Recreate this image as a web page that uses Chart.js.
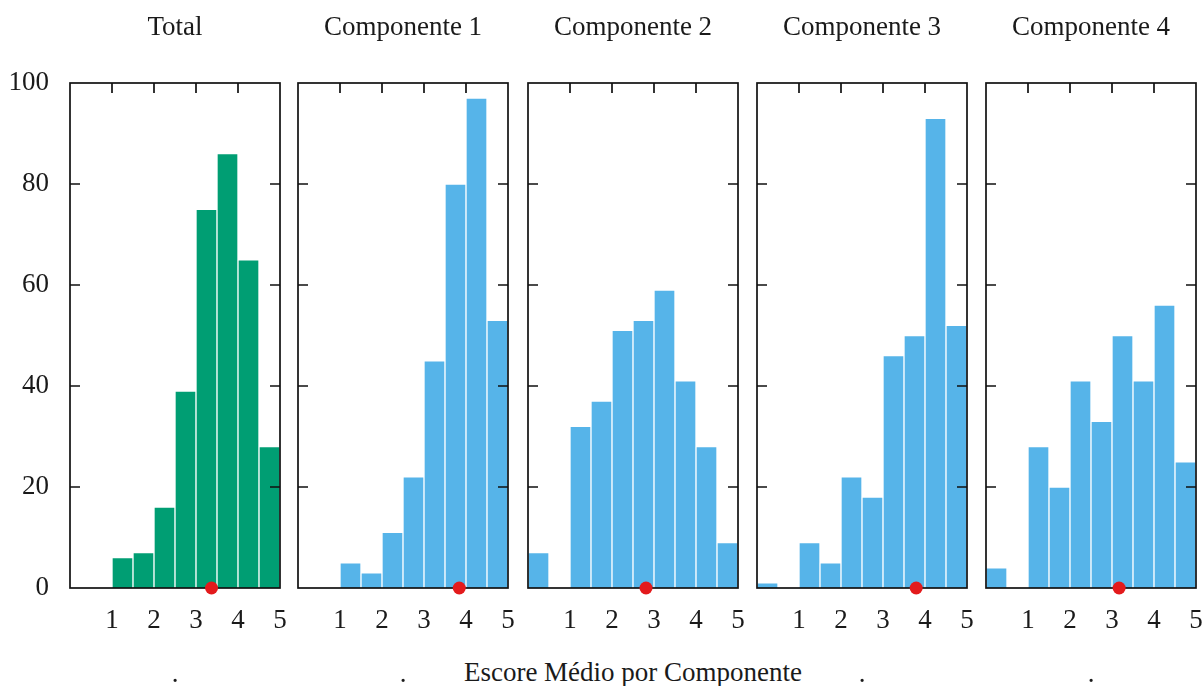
<!DOCTYPE html>
<html>
<head>
<meta charset="utf-8">
<script src="https://cdn.jsdelivr.net/npm/chart.js@4/dist/chart.umd.min.js"></script>
<style>
  html, body { margin: 0; padding: 0; background: #fff; }
  #wrap { position: relative; width: 1203px; height: 686px; overflow: hidden; }
  #wrap canvas { position: absolute; top: 0; }
  #xtitle {
    position: absolute; left: 333px; width: 600px; top: 656px;
    text-align: center; font-family: 'Liberation Serif', 'DejaVu Serif', serif;
    font-size: 27px; line-height: 32px; color: #1a1a1a; white-space: nowrap;
  }
</style>
</head>
<body>
<div id="wrap"><div id="xtitle"></div></div>
<script>
// histogram bins (centers, width 0.5)
const binCenters = [0.25, 0.75, 1.25, 1.75, 2.25, 2.75, 3.25, 3.75, 4.25, 4.75];

const totalCounts = [0, 0, 6, 7, 16, 39, 75, 86, 65, 28];
const comp1Counts = [0, 0, 5, 3, 11, 22, 45, 80, 97, 53];
const comp2Counts = [7, 0, 32, 37, 51, 53, 59, 41, 28, 9];
const comp3Counts = [1, 0, 9, 5, 22, 18, 46, 50, 93, 52];
const comp4Counts = [4, 0, 28, 20, 41, 33, 50, 41, 56, 25];

const panelTitles = ['Total', 'Componente 1', 'Componente 2', 'Componente 3', 'Componente 4'];
const panelMeans = [3.37, 3.84, 2.81, 3.79, 3.17];
const xTicks = [1, 2, 3, 4, 5];
const yTicks = [0, 20, 40, 60, 80, 100];
const xAxisTitle = 'Escore Médio por Componente';

const allCounts = [totalCounts, comp1Counts, comp2Counts, comp3Counts, comp4Counts];
const barColors = ['#009e73', '#56b4e9', '#56b4e9', '#56b4e9', '#56b4e9'];
const plotLefts = [70, 298, 528, 757, 986];
const plotWidth = 210;

const fontFamily = "'Liberation Serif', 'DejaVu Serif', serif";
const textColor = '#1a1a1a';
const baseFont = { family: fontFamily, size: 27, weight: 'normal' };

document.getElementById('xtitle').textContent = xAxisTitle;

// frame box with inward ticks, drawn between bars and the mean dot
const frameTicks = {
  id: 'frameTicks',
  afterDatasetDraw(chart, args) {
    if (args.index !== 0) return;
    const { ctx, chartArea: a, scales } = chart;
    ctx.save();
    ctx.strokeStyle = '#111';
    ctx.lineWidth = 1.7;
    ctx.strokeRect(a.left, a.top, a.right - a.left, a.bottom - a.top);
    ctx.beginPath();
    xTicks.forEach(v => {
      if (v <= 0 || v >= 5) return;
      const px = scales.x.getPixelForValue(v);
      ctx.moveTo(px, a.top);
      ctx.lineTo(px, a.top + 10);
    });
    yTicks.forEach(v => {
      if (v <= 0 || v >= 100) return;
      const py = scales.y.getPixelForValue(v);
      ctx.moveTo(a.left, py);
      ctx.lineTo(a.left + 10, py);
      ctx.moveTo(a.right, py);
      ctx.lineTo(a.right - 10, py);
    });
    ctx.stroke();
    ctx.restore();
  }
};

const wrap = document.getElementById('wrap');

allCounts.forEach((counts, i) => {
  const first = i === 0;
  const last = i === allCounts.length - 1;
  const padL = first ? 0 : 12;
  const padR = last ? 7 : 12;
  const yWidth = first ? 70 : 0;
  const canvas = document.createElement('canvas');
  const w = yWidth + padL + plotWidth + padR;
  canvas.width = w;
  canvas.height = 686;
  canvas.style.width = w + 'px';
  canvas.style.height = '686px';
  canvas.style.left = (plotLefts[i] - yWidth - padL) + 'px';
  wrap.appendChild(canvas);

  new Chart(canvas, {
    type: 'bar',
    data: {
      datasets: [{
        type: 'bar',
        data: binCenters.map((c, k) => ({ x: c, y: counts[k] })),
        backgroundColor: barColors[i],
        borderColor: 'rgba(255,255,255,0.9)',
        borderWidth: 1,
        borderSkipped: 'bottom',
        barPercentage: 1,
        categoryPercentage: 1,
        order: 2
      }, {
        type: 'scatter',
        data: [{ x: panelMeans[i], y: 0 }],
        pointRadius: 6.5,
        pointBackgroundColor: '#e31a1c',
        pointBorderWidth: 0,
        clip: false,
        order: 1
      }]
    },
    options: {
      responsive: false,
      animation: false,
      events: [],
      layout: { padding: { left: padL, right: padR, top: 0, bottom: 0 } },
      plugins: {
        legend: { display: false },
        tooltip: { enabled: false },
        title: {
          display: true,
          fullSize: false,
          text: panelTitles[i],
          color: textColor,
          font: baseFont,
          padding: { top: 11.8, bottom: 38.8 }
        }
      },
      scales: {
        x: {
          type: 'linear',
          min: 0,
          max: 5,
          offset: false,
          afterBuildTicks: s => { s.ticks = xTicks.map(v => ({ value: v })); },
          afterFit: s => { s.height = 98; s.paddingLeft = 0; s.paddingRight = 0; },
          ticks: { color: textColor, font: baseFont, padding: 17, maxRotation: 0, autoSkip: false },
          grid: { display: false, drawTicks: false, offset: false },
          border: { display: false },
          title: {
            display: i !== 2,
            text: '.',
            color: textColor,
            font: baseFont,
            padding: { top: 0, bottom: -5 }
          }
        },
        y: {
          display: first,
          min: 0,
          max: 100,
          afterBuildTicks: s => { s.ticks = yTicks.map(v => ({ value: v })); },
          afterFit: s => { s.width = yWidth; s.paddingTop = 0; s.paddingBottom = 0; },
          ticks: { color: textColor, font: baseFont, padding: 21 },
          grid: { display: false, drawTicks: false },
          border: { display: false }
        }
      }
    },
    plugins: [frameTicks]
  });
});
</script>
</body>
</html>
